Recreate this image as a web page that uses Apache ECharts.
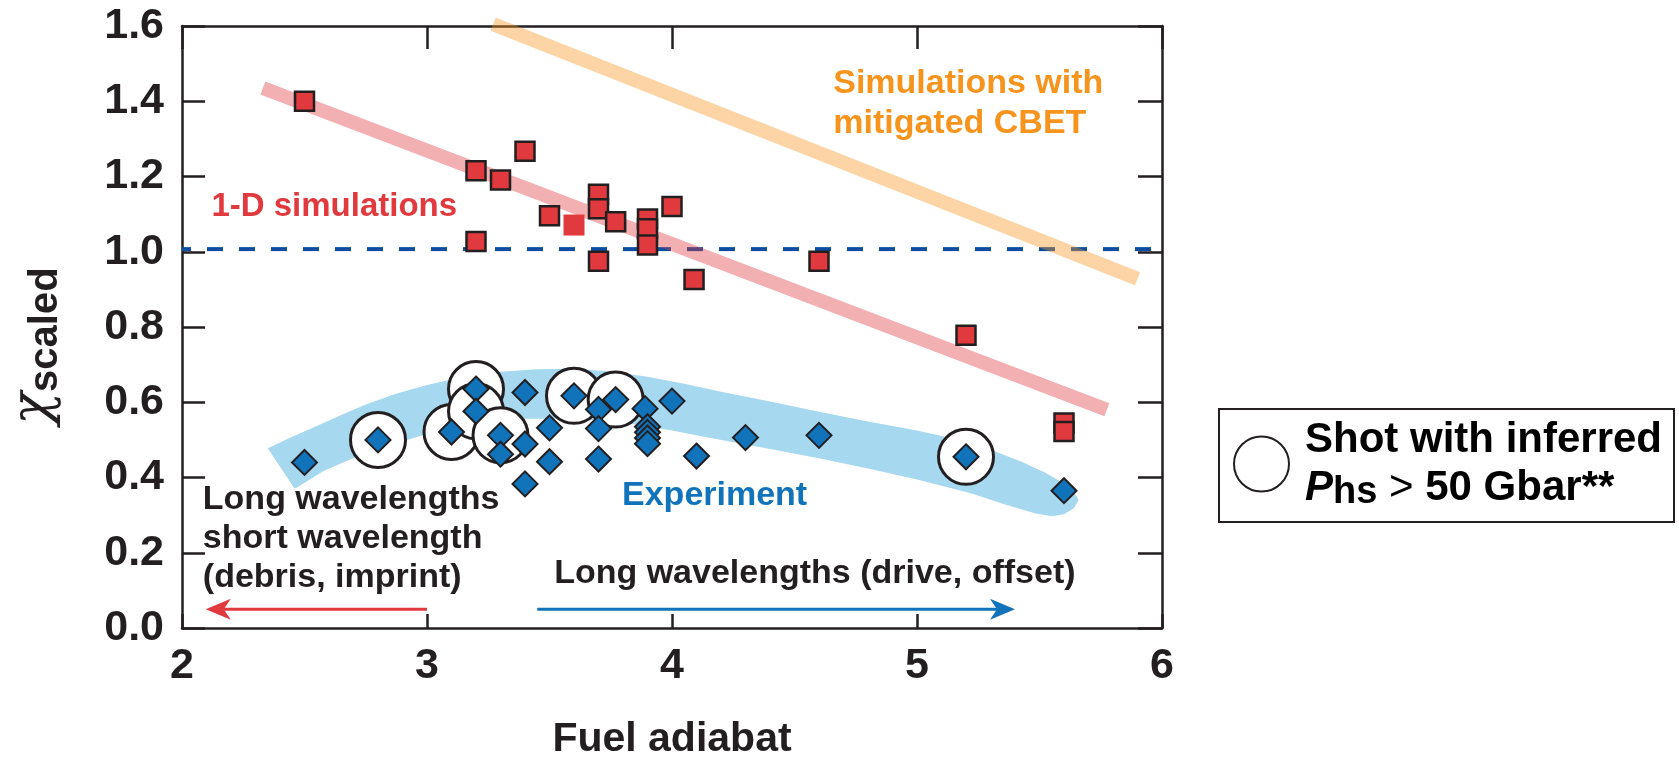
<!DOCTYPE html>
<html>
<head>
<meta charset="utf-8">
<script src="https://cdn.jsdelivr.net/npm/echarts@6/dist/echarts.min.js"></script>
<style>
  html, body { margin: 0; padding: 0; background: #ffffff; }
  #chart { width: 1679px; height: 765px; }
</style>
</head>
<body>
<div id="chart"></div>
<script>
// Axis tick labels
const xTickLabels = ['2', '3', '4', '5', '6'];
const yTickLabels = ['0.0', '0.2', '0.4', '0.6', '0.8', '1.0', '1.2', '1.4', '1.6'];

// 1-D simulation results: [fuel adiabat, chi scaled]
const simPoints = [
  [2.5, 1.40], [3.2, 1.215], [3.3, 1.191], [3.4, 1.267], [3.2, 1.027],
  [3.5, 1.096], [3.7, 1.153], [3.7, 1.114], [3.77, 1.080],
  [3.9, 1.087], [3.9, 1.061], [3.9, 1.018], [4.0, 1.120],
  [3.7, 0.975], [4.09, 0.926], [4.6, 0.975], [5.2, 0.778],
  [5.6, 0.545], [5.6, 0.522]
];
// simulation point drawn without outline
const simPointsPlain = [[3.6, 1.071]];

// Experimental shots
const expPoints = [
  [2.5, 0.440], [2.8, 0.500], [3.1, 0.521], [3.2, 0.635], [3.2, 0.576],
  [3.3, 0.512], [3.3, 0.462], [3.4, 0.626], [3.4, 0.489], [3.4, 0.383],
  [3.5, 0.532], [3.5, 0.442], [3.6, 0.617], [3.7, 0.581], [3.7, 0.530],
  [3.7, 0.449], [3.77, 0.607], [3.89, 0.583], [3.9, 0.535], [3.9, 0.520],
  [3.9, 0.505], [3.9, 0.490], [4.0, 0.603], [4.1, 0.457], [4.3, 0.506],
  [4.6, 0.512], [5.2, 0.455], [5.6, 0.365]
];

// Shots with inferred hot-spot pressure above 50 Gbar
const highPressureShots = [
  [2.8, 0.500], [3.2, 0.635], [3.1, 0.521], [3.2, 0.576], [3.3, 0.512],
  [3.6, 0.617], [3.77, 0.607], [5.2, 0.455]
];

// Trend lines
const simTrend = [[2.33, 1.435], [5.775, 0.580]];
const cbetTrend = [[3.27, 1.605], [5.90, 0.928]];
const ignitionLevel = [[2, 1.007], [6, 1.007]];

// Experiment band outline (upper edge left->right, lower edge right->left)
const bandUpper = [
  [2.35, 0.478], [2.45, 0.508], [2.55, 0.537], [2.65, 0.566], [2.75, 0.594],
  [2.87, 0.622], [3.00, 0.646], [3.15, 0.668], [3.30, 0.681], [3.45, 0.688],
  [3.60, 0.689], [3.75, 0.682], [3.90, 0.668], [4.05, 0.649], [4.20, 0.628],
  [4.40, 0.602], [4.60, 0.575], [4.80, 0.549], [5.00, 0.525], [5.15, 0.503],
  [5.30, 0.474], [5.42, 0.444], [5.52, 0.414], [5.59, 0.388], [5.64, 0.362],
  [5.66, 0.340]
];
const bandLower = [
  [5.64, 0.318], [5.60, 0.302], [5.55, 0.297], [5.48, 0.305], [5.35, 0.330],
  [5.22, 0.358], [5.00, 0.395], [4.80, 0.424], [4.60, 0.451], [4.40, 0.476],
  [4.18, 0.502], [4.00, 0.525], [3.80, 0.546], [3.60, 0.556], [3.40, 0.556],
  [3.20, 0.545], [3.00, 0.516], [2.85, 0.486], [2.70, 0.452], [2.58, 0.418],
  [2.46, 0.370]
];

// Direction arrows: [tail x, tail y, tip x, tip y]
const arrowShort = [3.0, 0.05, 2.097, 0.05];
const arrowLong = [3.45, 0.05, 5.40, 0.05];

// Annotation texts and their anchors (left, vertical middle)
const noteTexts = [
  'Simulations with\nmitigated CBET',
  '1-D simulations',
  'Experiment',
  'Long wavelengths\nshort wavelength\n(debris, imprint)',
  'Long wavelengths (drive, offset)'
];
const noteAnchors = [[4.658, 1.393], [2.12, 1.120], [3.796, 0.353], [2.085, 0.237], [3.519, 0.145]];

const INK = '#231F20';
const RED = '#E0393E';
const BLUE = '#1173BA';
const ORANGE = '#F7941D';
const FONT = '"Liberation Sans", Arial, Helvetica, sans-serif';
const noteColors = [ORANGE, RED, BLUE, INK, INK];
const noteFontSizes = [34, 33, 34, 34, 34];
const noteLineHeights = [40, 40, 40, 39, 40];
const arrowColors = [RED, BLUE];
const LEGEND_NAME = 'Shot with inferred Phs > 50 Gbar**';

const axisLineStyle = { color: INK, width: 2.5 };
const tickFont = { color: INK, fontSize: 43, fontWeight: 'bold', fontFamily: FONT };

const chart = echarts.init(document.getElementById('chart'), null, { renderer: 'canvas' });

chart.setOption({
  animation: false,
  backgroundColor: '#ffffff',
  grid: { left: 171, right: 517, top: 26, bottom: 131, containLabel: false },
  legend: {
    data: [LEGEND_NAME],
    left: 1219, top: 409,
    orient: 'vertical',
    padding: [10, 12, 10, 14],
    borderColor: INK, borderWidth: 2, borderRadius: 0,
    itemWidth: 55, itemHeight: 55,
    selectedMode: false,
    formatter: () => '{a|Shot with inferred}\n{p|P}{hs|hs}{g| > }{a|50 Gbar**}',
    textStyle: {
      color: '#000', padding: [0, 0, 0, 11],
      rich: {
        a: { fontSize: 42, fontWeight: 'bold', fontFamily: FONT, color: '#000', lineHeight: 48 },
        g: { fontSize: 42, fontWeight: 'normal', fontFamily: FONT, color: '#000', lineHeight: 48 },
        p: { fontSize: 42, fontWeight: 'bold', fontStyle: 'italic', fontFamily: FONT, color: '#000', lineHeight: 48 },
        hs: { fontSize: 38, fontWeight: 'bold', fontFamily: FONT, color: '#000', lineHeight: 26, verticalAlign: 'bottom' }
      }
    }
  },
  xAxis: [
    {
      type: 'value', min: 2, max: 6, interval: 1, position: 'bottom',
      axisLine: { show: true, onZero: false, lineStyle: axisLineStyle },
      axisTick: { show: true, inside: true, length: 14, lineStyle: axisLineStyle },
      axisLabel: Object.assign({ margin: 17, formatter: v => xTickLabels[Math.round(v - 2)] }, tickFont),
      splitLine: { show: false },
      name: 'Fuel adiabat', nameLocation: 'middle', nameGap: 91,
      nameTextStyle: { color: INK, fontSize: 41, fontWeight: 'bold', fontFamily: FONT }
    },
    {
      type: 'value', min: 2, max: 6, interval: 1, position: 'top',
      axisLine: { show: true, onZero: false, lineStyle: axisLineStyle },
      axisTick: { show: true, inside: true, length: 23, lineStyle: axisLineStyle },
      axisLabel: { show: false },
      splitLine: { show: false }
    }
  ],
  yAxis: [
    {
      type: 'value', min: 0, max: 1.6, interval: 0.2, position: 'left',
      axisLine: { show: true, onZero: false, lineStyle: axisLineStyle },
      axisTick: { show: true, inside: true, length: 23, lineStyle: axisLineStyle },
      axisLabel: Object.assign({ margin: 18, padding: [4, 0, 0, 0], formatter: v => yTickLabels[Math.round(v / 0.2)] }, tickFont),
      splitLine: { show: false },
      name: '{chi|χ}{sub|scaled}', nameLocation: 'middle', nameRotate: 90, nameGap: 116,
      nameMoveOverlap: false,
      nameTextStyle: {
        padding: [0, 38, 0, 0],
        rich: {
          chi: { fontSize: 54, fontStyle: 'italic', fontFamily: '"DejaVu Serif", serif', color: INK, lineHeight: 58, verticalAlign: 'top' },
          sub: { fontSize: 40, fontWeight: 'bold', fontFamily: FONT, color: INK, lineHeight: 34, verticalAlign: 'bottom' }
        }
      }
    },
    {
      type: 'value', min: 0, max: 1.6, interval: 0.2, position: 'right',
      axisLine: { show: true, onZero: false, lineStyle: axisLineStyle },
      axisTick: { show: true, inside: true, length: 24, lineStyle: axisLineStyle },
      axisLabel: { show: false },
      splitLine: { show: false }
    }
  ],
  series: [
    {
      // experiment band
      type: 'custom', z: 1, silent: true,
      data: [bandUpper[0]], encode: { x: 0, y: 1 },
      renderItem: (params, api) => {
        const pts = bandUpper.concat(bandLower).map(p => api.coord(p));
        return { type: 'polygon', shape: { points: pts }, style: { fill: '#A6D8F0' } };
      }
    },
    {
      type: 'line', data: ignitionLevel, z: 2, silent: true,
      symbol: 'none', clip: false,
      lineStyle: { color: '#0C4DA2', width: 4, type: [16, 16], dashOffset: 7 }
    },
    {
      type: 'line', data: simTrend, z: 3, silent: true,
      symbol: 'none', clip: false,
      lineStyle: { color: RED, width: 14, opacity: 0.4, cap: 'butt' }
    },
    {
      type: 'line', data: cbetTrend, z: 3, silent: true,
      symbol: 'none', clip: false,
      lineStyle: { color: ORANGE, width: 14, opacity: 0.4, cap: 'butt' }
    },
    {
      type: 'scatter', data: simPoints, z: 4, silent: true,
      symbol: 'rect', symbolSize: 19,
      itemStyle: { color: RED, borderColor: INK, borderWidth: 2.5, opacity: 1 }
    },
    {
      type: 'scatter', data: simPointsPlain, z: 4, silent: true,
      symbol: 'rect', symbolSize: 21,
      itemStyle: { color: RED, borderWidth: 0, opacity: 1 }
    },
    {
      name: LEGEND_NAME,
      type: 'scatter', data: highPressureShots, z: 5, silent: true,
      symbol: 'circle', symbolSize: 55,
      itemStyle: { color: '#ffffff', borderColor: INK, borderWidth: 3, opacity: 1 }
    },
    {
      type: 'scatter', data: expPoints, z: 6, silent: true,
      symbol: 'diamond', symbolSize: 25,
      itemStyle: { color: BLUE, borderColor: INK, borderWidth: 2, opacity: 1 }
    },
    {
      // text annotations
      type: 'custom', z: 7, silent: true,
      data: noteAnchors.map((p, i) => [p[0], p[1], i]),
      encode: { x: 0, y: 1 },
      renderItem: (params, api) => {
        const i = api.value(2);
        const pt = api.coord([api.value(0), api.value(1)]);
        return {
          type: 'text', x: pt[0], y: pt[1],
          style: {
            text: noteTexts[i], fill: noteColors[i],
            font: 'bold ' + noteFontSizes[i] + 'px ' + FONT,
            align: 'left', verticalAlign: 'middle', lineHeight: noteLineHeights[i]
          }
        };
      }
    },
    {
      // direction arrows: shaft plus a notched head whose tip sits on the end point
      type: 'custom', z: 7, silent: true,
      data: [arrowShort.concat(0), arrowLong.concat(1)],
      encode: { x: [0, 2], y: [1, 3] },
      renderItem: (params, api) => {
        const tail = api.coord([api.value(0), api.value(1)]);
        const tip = api.coord([api.value(2), api.value(3)]);
        const color = arrowColors[api.value(4)];
        const dx = tip[0] - tail[0], dy = tip[1] - tail[1];
        const len = Math.sqrt(dx * dx + dy * dy);
        const ux = dx / len, uy = dy / len;
        const px = -uy, py = ux;
        const headLen = 25, halfW = 10.5, notch = 18;
        const back = [tip[0] - ux * headLen, tip[1] - uy * headLen];
        const mid = [tip[0] - ux * notch, tip[1] - uy * notch];
        return {
          type: 'group',
          children: [
            {
              type: 'line',
              shape: { x1: tail[0], y1: tail[1], x2: mid[0], y2: mid[1] },
              style: { stroke: color, lineWidth: 3 }
            },
            {
              type: 'polygon',
              shape: { points: [tip, [back[0] + px * halfW, back[1] + py * halfW], mid, [back[0] - px * halfW, back[1] - py * halfW]] },
              style: { fill: color }
            }
          ]
        };
      }
    }
  ]
});
</script>
</body>
</html>
